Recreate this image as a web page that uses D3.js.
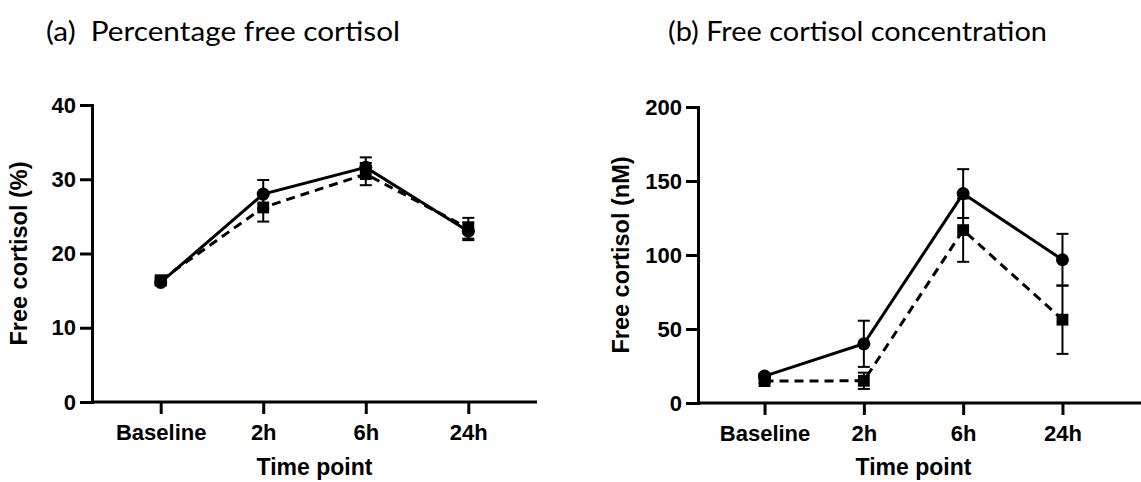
<!DOCTYPE html>
<html>
<head>
<meta charset="utf-8">
<script src="https://cdn.jsdelivr.net/npm/d3@7"></script>
<style>
  body { margin: 0; background: #fff; }
  svg { display: block; }
</style>
</head>
<body>
<svg id="chart" width="1141" height="482"></svg>
<script>
// Time points shared by both panels
const categories = ["Baseline", "2h", "6h", "24h"];

// Panel (a): percentage free cortisol, mean and error per time point
const pctCircle    = [16.1, 28.0, 31.6, 23.0];
const pctCircleErr = [0.4, 1.9, 1.35, 1.2];
const pctSquare    = [16.4, 26.2, 30.7, 23.4];
const pctSquareErr = [0.4, 1.9, 1.5, 1.4];
const pctTicks     = [0, 10, 20, 30, 40];

// Panel (b): free cortisol concentration (nM)
const concCircle    = [18.2, 40.0, 141.5, 96.8];
const concCircleErr = [1.5, 15.6, 16.5, 17.5];
const concSquare    = [14.8, 15.0, 116.8, 56.3];
const concSquareErr = [1.2, 5.5, 21.4, 23.1];
const concTicks     = [0, 50, 100, 150, 200];

const svg = d3.select("#chart");
const tickFont = "'Liberation Sans', Arial, sans-serif";

function panel(opts) {
  const g = svg.append("g");
  const x = d3.scalePoint().domain(categories).range([opts.left, opts.right]).padding(0.67);
  const y = d3.scaleLinear().domain([0, opts.yMax]).range([opts.bottom, opts.top]);

  // y axis
  const yAxis = g.append("g")
    .attr("transform", `translate(${opts.left},0)`)
    .call(d3.axisLeft(y).tickValues(opts.ticks).tickSize(12).tickPadding(4).tickSizeOuter(0));
  // x axis
  const xAxis = g.append("g")
    .attr("transform", `translate(0,${opts.bottom})`)
    .call(d3.axisBottom(x).tickSize(12).tickPadding(10).tickSizeOuter(0));
  xAxis.select(".domain").attr("d", `M${opts.left},0H${opts.axisEnd}`);

  [yAxis, xAxis].forEach(a => {
    a.selectAll(".domain, .tick line").attr("stroke", "#000").attr("stroke-width", 3);
    a.selectAll(".tick text")
      .attr("fill", "#000")
      .style("font-family", tickFont)
      .style("font-weight", "bold")
      .style("font-size", "22px");
  });
  yAxis.select(".domain").attr("stroke-linecap", "square");

  // axis titles
  g.append("text")
    .attr("x", (opts.left + opts.right) / 2)
    .attr("y", 475)
    .attr("text-anchor", "middle")
    .style("font-family", tickFont).style("font-weight", "bold").style("font-size", "23px")
    .text("Time point");
  g.append("text")
    .attr("transform", `translate(${opts.yTitleX},${(opts.top + opts.bottom) / 2}) rotate(-90)`)
    .attr("text-anchor", "middle")
    .style("font-family", tickFont).style("font-weight", "bold").style("font-size", "23.5px")
    .text(opts.yTitle);

  // panel title
  g.append("text")
    .attr("x", opts.titleX)
    .attr("y", 41)
    .attr("xml:space", "preserve")
    .style("white-space", "pre")
    .style("font-family", "Lato, 'Open Sans', sans-serif")
    .style("font-size", "27px")
    .attr("textLength", opts.titleWidth)
    .attr("lengthAdjust", "spacingAndGlyphs")
    .text(opts.title);

  const series = [
    { values: opts.circle, errs: opts.circleErr, dash: null, symbol: d3.symbolCircle, size: 133 },
    { values: opts.square, errs: opts.squareErr, dash: "9,6", symbol: d3.symbolSquare, size: 140 }
  ];

  const line = d3.line().x((d, i) => x(categories[i])).y(d => y(d));

  series.forEach(s => {
    g.append("path")
      .datum(s.values)
      .attr("d", line)
      .attr("fill", "none")
      .attr("stroke", "#000")
      .attr("stroke-width", 3)
      .attr("stroke-dasharray", s.dash);
  });

  series.forEach(s => {
    const pts = s.values.map((v, i) => ({ c: categories[i], v, e: s.errs[i] }));
    const eb = g.append("g").attr("stroke", "#000").attr("stroke-width", 2);
    eb.selectAll("line.v").data(pts).join("line")
      .attr("x1", d => x(d.c)).attr("x2", d => x(d.c))
      .attr("y1", d => y(d.v - d.e)).attr("y2", d => y(d.v + d.e));
    eb.selectAll("line.top").data(pts).join("line")
      .attr("x1", d => x(d.c) - 6).attr("x2", d => x(d.c) + 6)
      .attr("y1", d => y(d.v + d.e)).attr("y2", d => y(d.v + d.e));
    eb.selectAll("line.bot").data(pts).join("line")
      .attr("x1", d => x(d.c) - 6).attr("x2", d => x(d.c) + 6)
      .attr("y1", d => y(d.v - d.e)).attr("y2", d => y(d.v - d.e));
    g.append("g").selectAll("path").data(pts).join("path")
      .attr("transform", d => `translate(${x(d.c)},${y(d.v)})`)
      .attr("d", d3.symbol(s.symbol, s.size))
      .attr("fill", "#000");
  });
}

panel({
  left: 92, right: 537, axisEnd: 537, top: 105, bottom: 402, yMax: 40, ticks: pctTicks,
  circle: pctCircle, circleErr: pctCircleErr, square: pctSquare, squareErr: pctSquareErr,
  yTitle: "Free cortisol (%)", yTitleX: 27,
  title: "(a)  Percentage free cortisol", titleX: 46, titleWidth: 354
});

panel({
  left: 698, right: 1129, axisEnd: 1141, top: 107, bottom: 403, yMax: 200, ticks: concTicks,
  circle: concCircle, circleErr: concCircleErr, square: concSquare, squareErr: concSquareErr,
  yTitle: "Free cortisol (nM)", yTitleX: 629,
  title: "(b) Free cortisol concentration", titleX: 668, titleWidth: 379
});
</script>
</body>
</html>
